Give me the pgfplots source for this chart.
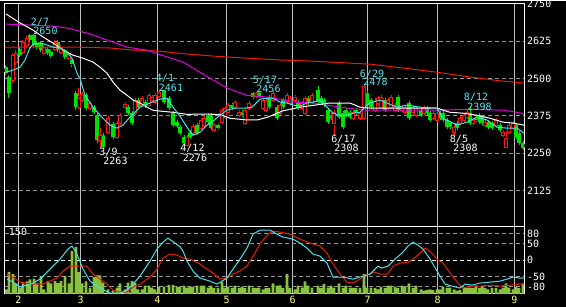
\documentclass[border=0pt]{standalone}
\usepackage{pgfplots}
\usepackage{pgfplotstable}
\pgfplotsset{compat=1.18}
\usepackage{fontspec}
\setmainfont{DejaVu Sans Mono}
\definecolor{upred}{RGB}{255,20,20}
\definecolor{dngreen}{RGB}{0,225,0}
\definecolor{macyan}{RGB}{70,225,235}
\definecolor{mamag}{RGB}{225,0,225}
\definecolor{mared}{RGB}{235,30,0}
\definecolor{volgreen}{RGB}{135,195,60}
\definecolor{gridgray}{RGB}{150,150,150}
\definecolor{vgray}{RGB}{190,190,190}
\definecolor{lblcyan}{RGB}{90,230,240}
\definecolor{monthyel}{RGB}{255,255,140}

\pgfplotstableread{
x o h l c
13 2495 2585 2485 2578
16 2552 2595 2545 2585
23 2588 2629 2582 2619
27 2612 2642 2605 2635
44 2585 2612 2578 2605
55 2598 2629 2592 2622
61 2588 2612 2582 2605
69 2568 2588 2562 2582
79 2404 2468 2397 2434
82 2428 2455 2421 2448
90 2401 2424 2394 2418
100 2294 2334 2267 2310
108 2320 2374 2313 2367
117 2304 2357 2297 2351
120 2351 2384 2344 2377
125 2404 2421 2397 2414
135 2384 2434 2377 2428
142 2411 2441 2404 2434
149 2411 2451 2404 2444
152 2428 2444 2421 2438
155 2421 2451 2414 2444
159 2441 2461 2434 2454
187 2277 2310 2276 2304
193 2317 2347 2310 2340
201 2334 2367 2327 2361
204 2344 2374 2337 2367
214 2327 2351 2320 2344
222 2354 2401 2347 2394
225 2371 2408 2364 2401
228 2387 2418 2381 2411
235 2404 2428 2397 2421
239 2377 2394 2371 2387
245 2351 2401 2344 2394
249 2401 2424 2394 2418
256 2441 2456 2434 2451
263 2401 2434 2394 2428
266 2394 2434 2387 2428
273 2428 2458 2421 2451
280 2384 2418 2377 2411
287 2421 2451 2414 2444
290 2418 2441 2411 2434
295 2428 2444 2421 2438
302 2401 2424 2394 2418
305 2384 2441 2377 2434
312 2421 2451 2414 2444
334 2351 2394 2308 2387
353 2367 2394 2361 2387
360 2367 2391 2361 2384
364 2367 2478 2361 2474
375 2394 2434 2387 2424
378 2418 2441 2411 2434
381 2404 2444 2397 2438
388 2401 2434 2394 2428
391 2404 2444 2397 2438
395 2394 2418 2387 2411
402 2394 2411 2387 2404
405 2387 2411 2381 2404
413 2387 2411 2381 2404
416 2377 2408 2371 2401
424 2384 2408 2377 2401
433 2367 2391 2361 2384
437 2361 2391 2354 2384
454 2320 2344 2308 2337
460 2351 2374 2344 2367
464 2361 2384 2354 2377
467 2371 2398 2364 2387
473 2351 2367 2344 2361
485 2344 2361 2337 2354
496 2344 2367 2337 2361
503 2310 2327 2304 2320
506 2270 2324 2267 2300
509 2320 2351 2313 2344
513 2334 2357 2327 2351
}\upcandles

\pgfplotstableread{
x o h l c
6 2538 2545 2511 2518
9 2505 2511 2434 2451
20 2598 2605 2572 2578
30 2645 2650 2622 2629
34 2645 2650 2605 2612
37 2619 2625 2598 2605
41 2619 2625 2588 2595
48 2598 2605 2578 2585
51 2588 2595 2568 2575
58 2622 2629 2588 2595
65 2595 2598 2565 2572
72 2562 2565 2538 2548
76 2451 2458 2394 2404
86 2444 2451 2394 2401
94 2404 2411 2380 2387
97 2377 2384 2284 2294
103 2310 2317 2263 2270
113 2347 2354 2297 2304
128 2404 2411 2377 2384
132 2384 2391 2344 2351
138 2428 2434 2397 2404
145 2421 2428 2401 2408
164 2461 2461 2414 2421
169 2434 2441 2394 2401
173 2384 2391 2337 2344
177 2354 2361 2334 2340
180 2337 2344 2310 2317
184 2304 2310 2277 2284
190 2320 2327 2297 2304
197 2344 2351 2310 2317
208 2377 2384 2347 2354
211 2377 2384 2327 2334
218 2344 2351 2327 2334
232 2411 2418 2394 2401
242 2387 2394 2371 2377
253 2451 2454 2431 2438
259 2454 2456 2438 2441
269 2438 2444 2397 2404
277 2404 2411 2361 2367
283 2428 2434 2397 2404
298 2421 2428 2394 2401
308 2434 2441 2411 2418
318 2461 2474 2414 2421
321 2434 2441 2411 2418
324 2428 2434 2404 2411
328 2394 2401 2347 2354
331 2377 2384 2361 2367
339 2418 2424 2364 2371
343 2384 2391 2330 2337
346 2394 2401 2371 2377
350 2387 2394 2364 2371
356 2394 2401 2377 2384
367 2451 2458 2404 2411
371 2428 2434 2397 2404
385 2428 2434 2387 2394
398 2438 2444 2387 2394
409 2418 2424 2361 2367
421 2394 2401 2371 2377
427 2401 2408 2377 2384
430 2384 2391 2354 2361
440 2384 2391 2361 2367
443 2384 2391 2354 2361
447 2361 2367 2330 2337
450 2351 2357 2330 2337
457 2351 2357 2327 2334
470 2384 2408 2344 2351
476 2367 2374 2354 2361
479.5 2377 2384 2347 2354
482 2371 2377 2344 2351
488 2354 2361 2330 2337
492 2351 2357 2327 2334
500 2344 2351 2320 2327
516 2344 2351 2297 2304
519 2317 2324 2277 2284
523 2284 2290 2260 2267
}\dncandles

\pgfplotstableread{
x v
6 10
9 49
13 44
16 23
20 14
23 23
27 28
30 32
34 34
37 23
41 40
44 10
48 29
51 23
55 29
58 24
61 29
65 40
69 23
72 96
76 105
79 49
82 23
86 28
90 14
94 37
97 41
100 41
103 25
108 10
113 7
117 14
120 23
125 10
128 25
132 29
135 25
138 10
142 10
145 18
149 18
152 14
155 10
159 16
164 16
169 20
173 20
177 16
180 16
184 18
187 14
190 16
193 16
197 18
201 18
204 18
208 14
211 18
214 13
218 13
222 27
225 14
228 16
232 13
235 18
239 13
242 16
245 13
249 18
253 14
256 13
259 14
263 10
266 13
269 13
273 23
277 18
280 19
283 13
287 44
290 13
295 10
298 18
302 14
305 28
308 18
312 14
318 18
321 13
324 22
328 14
331 18
334 14
339 23
343 13
346 18
350 14
353 13
356 13
360 13
364 44
367 14
371 14
375 13
378 10
381 16
385 13
388 18
391 18
395 16
398 13
402 18
405 16
409 23
413 13
416 18
421 10
424 7
427 8
430 10
433 8
437 10
440 10
443 16
447 13
450 14
454 10
457 7
460 8
464 13
467 14
470 14
473 13
476 18
479.5 13
482 16
485 13
488 10
492 13
496 13
500 10
503 14
506 23
509 14
513 10
516 16
519 13
523 23
}\voltable

\pgfplotsset{
  panel/.style={scale only axis, width=519pt, xmin=5, xmax=524,
    axis line style={white, line width=1pt}, major tick length=0pt,
    tick label style={font=\fontsize{10}{12}\selectfont},
    xtick={18.3,80.7,157.3,226.7,292.7,367.7,437.7,514.3}},
  hidepanel/.style={scale only axis, width=519pt, xmin=5, xmax=524, hide axis},
  pricepanel/.style={hidepanel, at={(5pt,80pt)}, anchor=south west, height=223pt,
    ymin=2004, ymax=2750},
  wick/.style={only marks, mark=none, error bars/.cd, y dir=both, y explicit,
    error mark=none, error bar style={draw=#1, line width=1pt}},
}

\begin{document}
\begin{tikzpicture}[x=1pt,y=1pt]
\fill[black] (0,0) rectangle (566,306);

% ---------------- price panel: frame, grid, wicks ----------------
\begin{axis}[panel, at={(5pt,80pt)}, anchor=south west, height=223pt,
  ymin=2004, ymax=2750,
  xticklabels={},
  ytick={2125,2250,2375,2500,2625,2750},
  yticklabels={2125,2250,2375,2500,2625,2750},
  yticklabel pos=right,
  yticklabel style={anchor=west, inner sep=0pt, xshift=3pt, text=white},
  xmajorgrids, ymajorgrids,
  x grid style={vgray, line width=1pt},
  y grid style={gridgray, line width=1pt, dash pattern=on 4pt off 3pt}]
\addplot[wick=upred] table[x=x, y expr={(\thisrow{h}+\thisrow{l})/2},
  y error expr={(\thisrow{h}-\thisrow{l})/2}] {\upcandles};
\addplot[wick=dngreen] table[x=x, y expr={(\thisrow{h}+\thisrow{l})/2},
  y error expr={(\thisrow{h}-\thisrow{l})/2}] {\dncandles};
\end{axis}

% green (falling) candle bodies
\begin{axis}[pricepanel, ybar stacked, bar width=3.8pt]
\addplot[draw=none, fill=none] table[x=x, y=c] {\dncandles};
\addplot[draw=none, fill=dngreen] table[x=x, y expr={max(\thisrow{o}-\thisrow{c},3.4)}] {\dncandles};
\end{axis}

% red (rising) candle bodies, hollow
\begin{axis}[pricepanel, ybar stacked, bar width=3pt]
\addplot[draw=none, fill=none] table[x=x, y=o] {\upcandles};
\addplot[draw=upred, fill=black, line width=1pt] table[x=x, y expr={max(\thisrow{c}-\thisrow{o},3.4)}] {\upcandles};
\end{axis}

% moving averages
\begin{axis}[pricepanel]
\addplot[mared, line width=1pt] coordinates {(5,2605) (77,2605) (110,2602) (133,2595) (157,2592) (187,2582) (213,2575) (247,2568) (280,2562) (313,2558) (347,2552) (370,2548) (403,2535) (437,2521) (470,2505) (503,2491) (524,2485)};
\addplot[mamag, line width=1pt] coordinates {(6,2682) (50,2676) (67,2669) (87,2652) (107,2629) (127,2605) (147,2595) (167,2572) (183,2555) (200,2521) (213,2495) (227,2468) (247,2444) (267,2438) (280,2431) (293,2421) (313,2418) (327,2411) (347,2401) (367,2394) (437,2394) (470,2397) (503,2394) (517,2387) (524,2381)};
\addplot[white, line width=1pt] coordinates {(6,2716) (20,2686) (33,2662) (43,2639) (53,2619) (63,2595) (73,2578) (83,2568) (93,2555) (100,2538) (107,2518) (113,2488) (120,2461) (127,2444) (133,2428) (140,2418) (147,2404) (153,2394) (160,2391) (173,2387) (187,2380) (200,2381) (220,2380) (230,2367) (245,2362) (258,2362) (268,2371) (283,2392) (300,2404) (330,2418) (350,2418) (360,2404) (370,2401) (437,2401) (450,2387) (463,2384) (477,2377) (490,2367) (503,2354) (513,2351) (524,2344)};
\addplot[macyan, line width=1pt] coordinates {(6,2521) (13,2528) (20,2538) (25,2562) (30,2602) (33,2615) (40,2619) (47,2612) (53,2605) (60,2602) (67,2588) (72,2568) (77,2518) (80,2500) (85,2444) (93,2404) (103,2367) (110,2344) (117,2334) (123,2344) (130,2371) (140,2404) (150,2418) (160,2431) (167,2434) (173,2404) (180,2374) (187,2337) (193,2310) (200,2320) (207,2344) (213,2357) (220,2377) (227,2394) (235,2401) (245,2401) (252,2404) (260,2431) (267,2434) (273,2434) (280,2421) (287,2418) (293,2411) (300,2408) (307,2418) (313,2421) (320,2428) (327,2404) (333,2384) (340,2377) (347,2377) (353,2384) (360,2387) (367,2411) (370,2418) (380,2428) (387,2418) (397,2404) (407,2411) (420,2404) (437,2401) (443,2367) (457,2344) (467,2354) (477,2371) (487,2361) (497,2337) (507,2334) (517,2334) (524,2317)};
\end{axis}

% ---------------- indicator panel: grid and frame ----------------
\begin{axis}[panel, at={(5pt,13pt)}, anchor=south west, height=67pt,
  ymin=-101, ymax=100,
  xticklabels={2,3,4,5,6,7,8,9},
  xticklabel style={text=monthyel, inner sep=0pt, yshift=-2pt},
  ytick={-80,-50,0,50,80},
  yticklabels={-80,-50,0,50,80},
  yticklabel pos=right,
  yticklabel style={anchor=west, inner sep=0pt, xshift=3pt, text=white},
  xmajorgrids, ymajorgrids,
  x grid style={vgray, line width=1pt},
  y grid style={gridgray, line width=1pt, dash pattern=on 4pt off 3pt}]
\addplot[white, line width=1pt, dash pattern=on 4pt off 3pt] coordinates {(5,0) (524,0)};
\end{axis}

% volume
\begin{axis}[hidepanel, at={(5pt,13pt)}, anchor=south west, height=67pt,
  ymin=0, ymax=150]
\addplot[ybar, bar width=2.6pt, bar shift=0pt, fill=volgreen, draw=none] table[x=x, y=v] {\voltable};
\end{axis}

% oscillator lines
\begin{axis}[hidepanel, at={(5pt,13pt)}, anchor=south west, height=67pt,
  ymin=-101, ymax=100]
\addplot[mared, line width=1pt] coordinates {(7,-42) (13,-51) (20,-66) (33,-72) (43,-72) (50,-63) (57,-54) (63,-33) (70,-18) (80,-18) (87,-18) (93,-42) (100,-57) (107,-72) (113,-90) (120,-96) (127,-96) (133,-81) (140,-72) (150,-51) (157,-27) (163,6) (170,18) (177,15) (183,6) (190,3) (200,-12) (207,-27) (213,-39) (220,-57) (227,-54) (233,-42) (240,-33) (247,-18) (252,6) (260,48) (267,75) (273,87) (280,84) (290,78) (300,63) (310,51) (320,42) (327,21) (333,-12) (340,-42) (347,-66) (353,-69) (360,-57) (365,-45) (370,-42) (375,-36) (380,-42) (388,-42) (393,-18) (400,-9) (408,-6) (413,3) (420,21) (425,36) (430,27) (437,3) (443,-9) (450,-39) (458,-69) (463,-84) (470,-78) (480,-78) (490,-75) (500,-78) (510,-75) (520,-72) (524,-72)};
\addplot[macyan, line width=1pt] coordinates {(7,-57) (13,-66) (20,-81) (27,-75) (33,-69) (40,-57) (50,-27) (60,3) (68,33) (72,42) (77,18) (83,-27) (90,-63) (100,-84) (110,-99) (120,-99) (127,-90) (133,-72) (140,-48) (150,-3) (157,33) (163,54) (168,66) (175,51) (180,40) (183,27) (187,-3) (193,-33) (200,-54) (210,-63) (217,-72) (222,-63) (227,-54) (233,-27) (240,3) (247,36) (253,78) (260,90) (270,90) (275,81) (283,69) (293,63) (300,51) (307,36) (313,18) (320,12) (327,-9) (333,-51) (343,-51) (353,-57) (360,-51) (367,-45) (370,-42) (378,-18) (382,-24) (388,-18) (395,3) (402,21) (408,42) (413,54) (418,45) (423,33) (430,3) (437,-33) (445,-72) (452,-78) (460,-84) (465,-72) (472,-75) (480,-69) (490,-66) (500,-63) (507,-57) (513,-51) (520,-54) (524,-54)};
\end{axis}

% ---------------- annotations ----------------
\begin{scope}[every node/.style={inner sep=0pt, font=\fontsize{10}{12}\selectfont}]
\node[text=lblcyan] at (40,284.5) {2/7};
\node[text=lblcyan] at (45.5,276) {2650};
\node[text=white] at (108.5,154.5) {3/9};
\node[text=white] at (115.5,145.5) {2263};
\node[text=lblcyan] at (165,228) {4/1};
\node[text=lblcyan] at (171,219) {2461};
\node[text=white] at (192.5,158.5) {4/12};
\node[text=white] at (195,149) {2276};
\node[text=lblcyan] at (265,226.5) {5/17};
\node[text=lblcyan] at (268.5,217.5) {2456};
\node[text=white] at (343.5,167.5) {6/17};
\node[text=white] at (346.5,158.5) {2308};
\node[text=lblcyan] at (372,233) {6/29};
\node[text=lblcyan] at (375.5,224.5) {2478};
\node[text=white] at (459,167.5) {8/5};
\node[text=white] at (465.5,158.5) {2308};
\node[text=lblcyan] at (476,209.5) {8/12};
\node[text=lblcyan] at (479.5,200) {2398};
\node[text=white] at (18,75) {150};
\end{scope}
\end{tikzpicture}
\end{document}
